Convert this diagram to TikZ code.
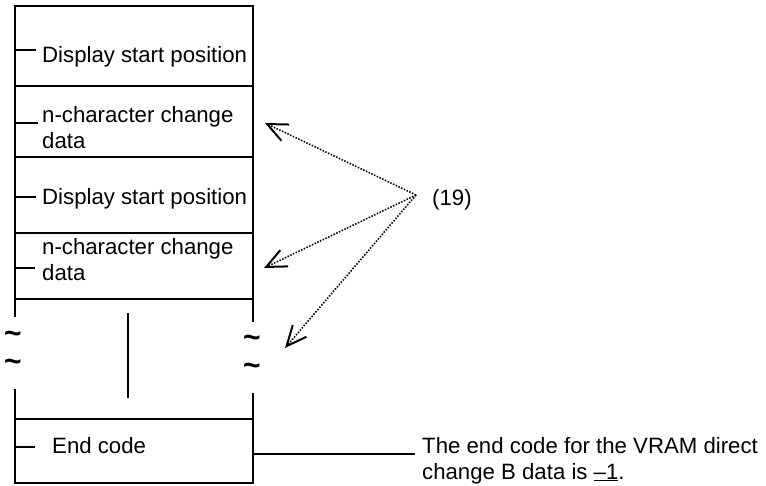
\documentclass[tikz,border=0pt]{standalone}
\usepackage{fontspec}
\setmainfont{Liberation Sans}
\usetikzlibrary{arrows.meta}
\begin{document}
\begin{tikzpicture}[x=1pt,y=-1pt,
  frame/.style={line width=2.2pt},
  tick/.style={line width=2pt},
  txt/.style={inner sep=0pt, anchor=base west, align=left,
    font=\fontsize{22.2}{26}\selectfont},
  wave/.style={inner sep=0pt, anchor=base, font=\fontsize{30}{34}\selectfont\bfseries},
  pointer/.style={line width=1.6pt, dash pattern=on 1.5pt off 1.5pt,
    -{Straight Barb[length=20pt,width=18pt,line width=2pt]}},
]
\path[use as bounding box] (0,0) rectangle (766,486);

% outer frame, broken where the list is elided
\draw[frame] (15,317) -- (15,6) -- (253,6) -- (253,322);
\draw[frame] (15,389) -- (15,483) -- (253,483) -- (253,393);
\foreach \y in {86,157,233,299,419} \draw[frame] (15,\y) -- (253,\y);

% repeated-entries marker
\draw[frame] (128,313) -- (128,398);
\node[wave] (wl1) at (13,344) {\char"7E};
\node[wave] (wl2) at (13,372) {\char"7E};
\node[wave] (wr1) at (252,348) {\char"7E};
\node[wave] (wr2) at (252,376) {\char"7E};

% entries (base anchor sits on the last line)
\node[txt] (dsp1) at (42,63) {Display start position};
\node[txt] (chg1) at (42,149) {n-character change\\data};
\node[txt] (dsp2) at (42,205) {Display start position};
\node[txt] (chg2) at (42,281) {n-character change\\data};
\node[txt] (endc) at (52,453) {End code};

% field ticks
\draw[tick] (15,50) -- (36,50);
\draw[tick] (15,123) -- (38,123);
\draw[tick] (15,197) -- (36,197);
\draw[tick] (15,268) -- (35,268);
\draw[tick] (15,447) -- (35,447);

% note on the end code
\node[txt] (note) at (422,479) {The end code for the VRAM direct\\change B data is \underline{–1}.};
\coordinate (notein) at (415,454);
\coordinate (endout) at (253,454);
\draw[tick] (endout) -- (notein);

% reference (19)
\node[txt] (ref) at (432,206) {(19)};
\coordinate (src) at (416,195);
\coordinate (t1) at (265,123);
\coordinate (t2) at (264,268);
\coordinate (t3) at (285,348);
\draw[pointer] (src) -- (t1);
\draw[pointer] (src) -- (t2);
\draw[pointer] (src) -- (t3);
\end{tikzpicture}
\end{document}
